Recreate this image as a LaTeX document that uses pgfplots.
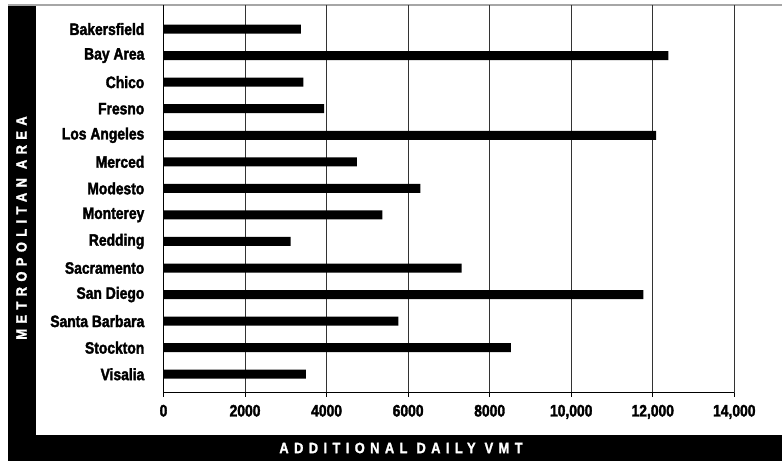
\documentclass[border=0pt]{standalone}
\usepackage{fontspec}
\setmainfont{Liberation Sans}[FakeStretch=0.84, BoldFeatures={FakeBold=2}]
\newfontfamily\spaced{Liberation Sans}[LetterSpace=36,FakeStretch=0.86, BoldFeatures={FakeBold=1.5}]
\usepackage{pgfplots}
\pgfplotsset{compat=1.18}
\begin{document}
\begin{tikzpicture}
\useasboundingbox (0,0) rectangle (782bp,461bp);
\fill[white] (0,0) rectangle (782bp,461bp);
% frame bands
\fill[black] (8bp,0) rectangle (35.5bp,456bp);
\fill[black] (8bp,0) rectangle (782bp,26bp);
\draw[gray!70, line width=1.5bp] (8bp,456bp) -- (782bp,456bp);
\node[white, rotate=90, font=\spaced\bfseries\fontsize{15bp}{17bp}\selectfont] at (21.5bp,233bp) {METROPOLITAN AREA};
\node[white, font=\spaced\bfseries\fontsize{15bp}{17bp}\selectfont] at (401bp,13bp) {ADDITIONAL DAILY VMT};
\begin{axis}[
  at={(163.5bp,68.3bp)}, anchor=south west,
  scale only axis,
  width=570.8bp, height=387.7bp,
  xmin=0, xmax=14000,
  ymin=-0.906, ymax=13.695,
  y dir=reverse,
  axis x line*=bottom,
  axis y line*=left,
  axis line style={black, line width=0.8bp},
  scaled ticks=false,
  xtick={0,2000,4000,6000,8000,10000,12000,14000},
  xticklabels={0,2000,4000,6000,8000,{10,000},{12,000},{14,000}},
  ytick={0,1,2,3,4,5,6,7,8,9,10,11,12,13},
  yticklabels={Bakersfield,Bay Area,Chico,Fresno,Los Angeles,Merced,Modesto,Monterey,Redding,Sacramento,San Diego,Santa Barbara,Stockton,Visalia},
  ytick style={draw=none},
  xtick style={black, line width=0.8bp},
  tick align=outside,
  major tick length=4bp,
  xmajorgrids,
  grid style={black!80, line width=0.8bp},
  ticklabel style={font=\bfseries\fontsize{16.5bp}{18bp}\selectfont, inner sep=0pt},
  xticklabel style={anchor=north, yshift=-8bp},
  yticklabel style={anchor=east, xshift=-15bp},
  /pgf/number format/assume math mode=true,
  xbar, bar width=9bp,
  clip=false,
]
\addplot[fill=black, draw=none] coordinates {
(3370,0) (12380,1) (3430,2) (3940,3) (12080,4) (4740,5) (6300,6) (5370,7)
(3120,8) (7310,9) (11770,10) (5760,11) (8520,12) (3490,13)
};
\end{axis}
\end{tikzpicture}
\end{document}
